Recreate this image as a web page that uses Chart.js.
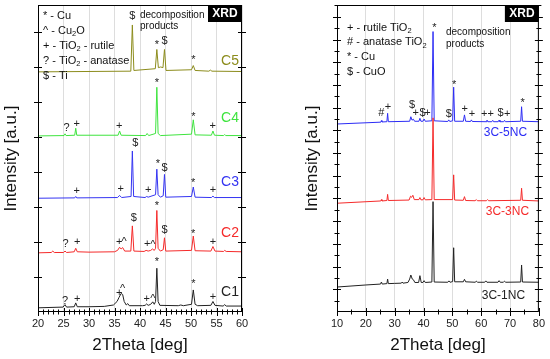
<!DOCTYPE html>
<html>
<head>
<meta charset="utf-8">
<script src="https://cdn.jsdelivr.net/npm/chart.js@4"></script>
<style>
  body { margin: 0; background: #fff; }
  canvas { position: absolute; top: 0; }
  #left { left: 0; }
  #right { left: 275px; }
</style>
</head>
<body>
<canvas id="left" width="275" height="359"></canvas>
<canvas id="right" width="275" height="359"></canvas>
<script>
// ---- left panel: samples C1..C5, 2Theta 20..60, [deg, intensity]
var leftNames = ['C1', 'C2', 'C3', 'C4', 'C5'];
var c1 = [[20,0.12],[24.9,0.14],[25.3,0.21],[25.6,0.14],[27.1,0.15],[27.4,0.26],[27.7,0.15],[30,0.15],[33,0.16],[34.8,0.2],[35.5,0.3],[35.9,0.42],[36.3,0.53],[36.6,0.5],[36.9,0.3],[37.3,0.2],[37.6,0.24],[37.9,0.18],[40.5,0.18],[41.0,0.19],[41.3,0.23],[41.6,0.19],[42.1,0.22],[42.5,0.29],[42.8,0.22],[43.05,0.3],[43.3,1.25],[43.55,0.3],[43.9,0.19],[47.5,0.18],[48,0.2],[48.5,0.18],[50.1,0.22],[50.45,0.63],[50.8,0.22],[51.3,0.18],[53.9,0.19],[54.3,0.3],[54.7,0.19],[56.3,0.17],[56.6,0.21],[56.9,0.17],[60,0.17]];
var c2 = [[20,1.69],[22.6,1.7],[22.9,1.74],[23.2,1.7],[25.0,1.7],[25.3,1.74],[25.6,1.7],[27.1,1.72],[27.4,1.82],[27.7,1.72],[30,1.71],[35,1.72],[35.6,1.76],[36.0,1.85],[36.3,1.8],[36.6,1.84],[37.0,1.74],[38.2,1.74],[38.5,2.46],[38.8,1.74],[40.8,1.73],[41.2,1.76],[41.6,1.74],[42.1,1.76],[42.45,1.8],[42.8,1.76],[43.05,1.82],[43.3,2.9],[43.55,1.82],[44.0,1.74],[44.55,1.78],[44.8,2.12],[45.05,1.74],[50.1,1.76],[50.45,2.17],[50.8,1.75],[53.9,1.74],[54.3,1.87],[54.7,1.74],[56.4,1.73],[56.6,1.76],[56.9,1.73],[60,1.72]];
var c3 = [[20,3.25],[27.2,3.26],[27.4,3.3],[27.6,3.26],[35.6,3.27],[36.0,3.33],[36.4,3.27],[38.25,3.3],[38.5,4.6],[38.75,3.3],[41.0,3.27],[41.3,3.3],[41.6,3.28],[43.05,3.35],[43.3,4.08],[43.55,3.35],[44.0,3.28],[44.55,3.32],[44.8,3.93],[45.05,3.28],[50.1,3.3],[50.45,3.57],[50.8,3.28],[54.0,3.27],[54.3,3.31],[54.6,3.27],[60,3.27]];
var c4 = [[20,5.03],[25.1,5.04],[25.3,5.09],[25.5,5.04],[27.2,5.05],[27.4,5.25],[27.6,5.05],[35.7,5.05],[36.0,5.17],[36.3,5.05],[41.1,5.04],[41.4,5.1],[41.7,5.04],[43.05,5.1],[43.3,6.42],[43.55,5.1],[44,5.04],[50.1,5.08],[50.45,5.49],[50.8,5.06],[54.0,5.05],[54.3,5.17],[54.6,5.05],[56.4,5.04],[56.6,5.07],[56.8,5.04],[60,5.04]];
var c5 = [[20,6.86],[38.2,6.88],[38.5,8.2],[38.8,6.9],[43.0,6.95],[43.3,7.5],[43.6,6.98],[44.05,7.0],[44.5,6.98],[44.8,7.5],[45.1,6.9],[50.1,6.92],[50.45,7.04],[50.8,6.9],[53.5,6.88],[53.8,6.91],[54.1,6.88],[60,6.87]];
var leftTicks = [20, 25, 30, 35, 40, 45, 50, 55, 60];

// ---- right panel: 3C-xNC, 2Theta 10..80
var rightNames = ['3C-1NC', '3C-3NC', '3C-5NC'];
var n1 = [[10,1.1],[20,1.19],[25.1,1.23],[25.4,1.32],[25.7,1.23],[27.3,1.25],[27.55,1.45],[27.8,1.25],[30,1.26],[32.3,1.27],[32.6,1.32],[32.9,1.27],[34.6,1.3],[35.2,1.45],[35.6,1.63],[36.1,1.45],[36.5,1.42],[37.0,1.3],[38.3,1.3],[38.75,1.6],[39.2,1.3],[39.8,1.3],[40.2,1.38],[40.6,1.3],[42.9,1.32],[43.3,4.86],[43.7,1.32],[48.4,1.31],[48.8,1.37],[49.2,1.31],[50.1,1.34],[50.45,2.83],[50.8,1.33],[53.8,1.33],[54.2,1.44],[54.6,1.33],[57.9,1.31],[58.3,1.36],[58.7,1.31],[61.2,1.31],[61.6,1.37],[62,1.31],[65.8,1.31],[66.2,1.38],[66.6,1.31],[67.7,1.31],[68.1,1.36],[68.5,1.31],[73.7,1.32],[74.0,2.07],[74.3,1.32],[80,1.31]];
var n3 = [[10,4.79],[25.2,4.89],[25.4,4.95],[25.6,4.89],[27.3,4.91],[27.55,5.18],[27.8,4.91],[35.0,4.93],[35.5,5.1],[35.9,5.05],[36.3,5.14],[36.8,4.95],[38.4,4.95],[38.75,5.04],[39.1,4.94],[39.8,4.94],[40.2,5.04],[40.6,4.94],[42.9,4.95],[43.3,8.55],[43.7,4.95],[50.1,4.95],[50.45,6.04],[50.8,4.93],[53.8,4.92],[54.2,5.08],[54.6,4.91],[57.9,4.9],[58.3,4.95],[58.7,4.9],[61.8,4.9],[62.2,4.95],[62.6,4.9],[73.7,4.92],[74.0,5.45],[74.3,4.92],[80,4.89]];
var n5 = [[10,8.28],[25.2,8.36],[25.4,8.43],[25.6,8.37],[27.3,8.38],[27.55,8.75],[27.8,8.38],[35.2,8.4],[35.6,8.6],[36.0,8.45],[36.5,8.49],[36.9,8.4],[38.4,8.4],[38.75,8.53],[39.1,8.4],[39.8,8.4],[40.2,8.5],[40.6,8.4],[42.9,8.42],[43.3,12.35],[43.7,8.42],[48.4,8.39],[48.75,8.46],[49.1,8.39],[50.1,8.42],[50.45,9.9],[50.8,8.4],[53.8,8.4],[54.2,8.68],[54.6,8.4],[56.3,8.39],[56.6,8.46],[56.9,8.39],[61.7,8.38],[62.0,8.45],[62.3,8.38],[63.7,8.38],[64.0,8.44],[64.3,8.38],[65.9,8.38],[66.2,8.45],[66.5,8.38],[67.8,8.38],[68.1,8.44],[68.4,8.38],[73.7,8.4],[74.0,9.04],[74.3,8.4],[80,8.38]];
var rightTicks = [10, 20, 30, 40, 50, 60, 70, 80];

// peak markers: [symbol, deg, intensity]
var marksLeft = [
  ['$',38.5,8.46],['*',43.3,7.69],['$',44.8,7.74],['*',50.45,7.26],
  ['?',25.6,5.26],['+',27.6,5.37],['+',35.9,5.31],['*',43.3,6.6],['*',50.45,5.63],['+',54.25,5.31],
  ['$',39.1,4.83],['*',43.5,4.29],['$',44.8,4.11],['+',27.6,3.46],['+',36.2,3.51],['+',41.6,3.49],['*',50.4,3.77],['+',54.3,3.49],
  ['?',25.4,1.94],['+',27.7,2.0],['+',35.9,2.0],['^',36.9,2.06],['$',38.8,2.69],['+',41.4,1.94],['^',42.5,1.97],['*',43.3,3.09],['$',44.8,2.34],['*',50.4,2.31],['+',54.3,2.0],
  ['?',25.3,0.31],['+',27.7,0.37],['+',35.9,0.54],['^',36.6,0.71],['+',41.3,0.37],['^',42.5,0.43],['*',43.3,1.51],['*',50.45,0.86],['+',54.3,0.43]
];
var marksRight = [
  ['#',25.4,8.77],['+',27.7,9.03],['$',36.0,9.12],['+',37.3,8.77],['$',39.7,8.77],['+',41.4,8.77],['*',43.8,12.64],
  ['$',48.8,8.72],['*',50.6,10.13],['+',54.3,8.94],['+',56.8,8.72],['++',62.2,8.72],['$',66.7,8.77],['+',69.0,8.72],['*',74.4,9.3]
];
var legendLeft = ['* - Cu', '^ - Cu_2O', '+ - TiO_2 - rutile', '? - TiO_2 - anatase', '$ - Ti'];
var legendRight = ['+ - rutile TiO_2', '# - anatase TiO_2', '* - Cu', '$ - CuO'];
// series label anchors [deg, intensity], same order as names
var labelPosLeft = [[57.65,0.57],[57.65,2.26],[57.65,3.71],[57.65,5.54],[57.65,7.17]];
var labelPosRight = [[67.7,0.70],[69.1,4.41],[68.4,7.89]];

var FONT = '"Liberation Sans", Arial, sans-serif';
Chart.defaults.font.family = FONT;
var leftColors = ['#222222', '#f52a2a', '#3434f2', '#3ee43e', '#8c8c1c'];
var rightColors = ['#222222', '#f52a2a', '#2c2cf5'];

function toXY(s) { return s.map(function (p) { return { x: p[0], y: p[1] }; }); }

// text with "_2" subscripts
function drawRich(ctx, text, x, y, size) {
  var parts = text.split('_');
  var cx = x;
  for (var i = 0; i < parts.length; i++) {
    var seg = parts[i];
    if (i > 0) {
      ctx.font = (size * 0.68) + 'px ' + FONT;
      ctx.fillText(seg[0], cx, y + size * 0.3);
      cx += ctx.measureText(seg[0]).width;
      seg = seg.slice(1);
    }
    ctx.font = size + 'px ' + FONT;
    ctx.fillText(seg, cx, y);
    cx += ctx.measureText(seg).width;
  }
}

var shift = { '*': 2.5, '^': 2 };

var decor = {
  id: 'decor',
  afterDatasetsDraw: function (chart, args, o) {
    var ctx = chart.ctx, a = chart.chartArea, x = chart.scales.x, y = chart.scales.y;
    ctx.save();
    ctx.strokeStyle = '#000';
    ctx.lineWidth = 1;
    ctx.strokeRect(a.left + 0.5, a.top + 0.5, a.right - a.left - 1, a.bottom - a.top - 1);
    ctx.beginPath();
    for (var v = x.min; v <= x.max + 1e-6; v += o.xMinor) {
      var px = Math.round(x.getPixelForValue(v)) + 0.5;
      var len = (v % o.xMajor === 0) ? 4 : 2.5;
      ctx.moveTo(px, a.bottom - len); ctx.lineTo(px, a.bottom + len);
    }
    for (var w = o.yMinor; w < y.max; w += o.yMinor) {
      var py = Math.round(y.getPixelForValue(w)) + 0.5;
      var l2 = (Math.abs(w % o.yMajor) < 1e-6) ? 4 : 2.5;
      ctx.moveTo(a.left - l2, py); ctx.lineTo(a.left + l2, py);
      ctx.moveTo(a.right - l2, py); ctx.lineTo(a.right + l2, py);
    }
    ctx.stroke();

    // peak markers
    ctx.fillStyle = '#222';
    ctx.textAlign = 'center';
    ctx.textBaseline = 'middle';
    ctx.font = '11px ' + FONT;
    o.marks.forEach(function (m) {
      ctx.fillText(m[0], x.getPixelForValue(m[1]), y.getPixelForValue(m[2]) + (shift[m[0]] || 0));
    });

    // series labels
    ctx.font = o.labelSize + 'px ' + FONT;
    o.labelPos.forEach(function (p, i) {
      ctx.fillStyle = chart.data.datasets[i].borderColor;
      ctx.fillText(chart.data.datasets[i].label, x.getPixelForValue(p[0]), y.getPixelForValue(p[1]));
    });

    // legend of symbols
    ctx.fillStyle = '#111';
    ctx.textAlign = 'left';
    o.legend.forEach(function (t, i) {
      drawRich(ctx, t, a.left + o.legendX, a.top + o.legendY + i * o.legendGap, 11);
    });
    ctx.font = '10px ' + FONT;
    ctx.fillText('decomposition', o.noteX, o.noteY);
    ctx.fillText('products', o.noteX, o.noteY + 11.5);

    // XRD tag
    ctx.fillStyle = '#000';
    ctx.fillRect(a.right - 34, a.top, 34, 17);
    ctx.fillStyle = '#fff';
    ctx.textAlign = 'center';
    ctx.font = 'bold 12px ' + FONT;
    ctx.fillText('XRD', a.right - 17, a.top + 8.5);
    ctx.restore();
  }
};

function panel(id, names, series, colors, xmin, xmax, ticks, ymax, padRight, axisW, titlePad, deco) {
  return new Chart(document.getElementById(id), {
    type: 'line',
    data: {
      datasets: series.map(function (s, i) {
        return { label: names[i], data: toXY(s), borderColor: colors[i], borderWidth: 1,
                 pointRadius: 0, tension: 0, fill: false };
      })
    },
    options: {
      responsive: false,
      animation: false,
      events: [],
      layout: { padding: { top: 5, right: padRight, left: 0, bottom: 0 } },
      plugins: { legend: { display: false }, tooltip: { enabled: false }, decor: deco },
      scales: {
        x: {
          type: 'linear', min: xmin, max: xmax,
          afterBuildTicks: function (s) { s.ticks = ticks.map(function (v) { return { value: v }; }); },
          afterFit: function (s) { s.height = 47; },
          grid: { color: '#dddddd', drawTicks: false, lineWidth: 1 },
          border: { display: false },
          ticks: { font: { size: 11 }, color: '#222', padding: 5, maxRotation: 0, autoSkip: false },
          title: { display: true, text: '2Theta [deg]', font: { size: 17 }, color: '#111', padding: { top: 0, bottom: 3.3 } }
        },
        y: {
          min: 0, max: ymax,
          afterFit: function (s) { s.width = axisW; },
          grid: { display: false },
          border: { display: false },
          ticks: { display: false },
          title: { display: true, text: 'Intensity [a.u.]', font: { size: 17 }, color: '#111', padding: { top: titlePad, bottom: 0 } }
        }
      }
    },
    plugins: [decor]
  });
}

panel('left', leftNames, [c1, c2, c3, c4, c5], leftColors, 20, 60, leftTicks, 8.77, 33, 38, 0.8, {
  xMinor: 1, xMajor: 5, yMinor: 1, yMajor: 1, marks: marksLeft, labelPos: labelPosLeft, labelSize: 14,
  legend: legendLeft, legendX: 5, legendY: 11, legendGap: 15, noteX: 140, noteY: 15
});
panel('right', rightNames, [n1, n3, n5], rightColors, 10, 80, rightTicks, 13.52, 8, 62, 26.8, {
  xMinor: 5, xMajor: 10, yMinor: 0.5, yMajor: 1, marks: marksRight, labelPos: labelPosRight, labelSize: 12,
  legend: legendRight, legendX: 10, legendY: 22.5, legendGap: 14.7, noteX: 171, noteY: 32.5
});
</script>
</body>
</html>
